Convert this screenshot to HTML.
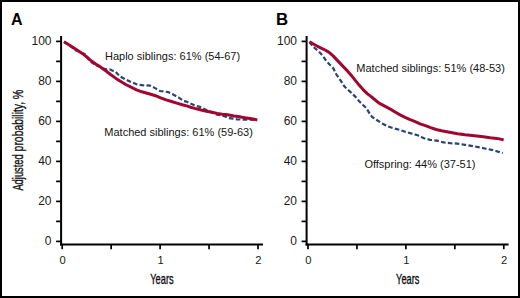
<!DOCTYPE html>
<html><head><meta charset="utf-8"><style>
html,body{margin:0;padding:0;background:#fff;}
.wrap{position:relative;width:520px;height:298px;box-sizing:border-box;border:2px solid #000;overflow:hidden;background:#fff;}
svg{position:absolute;left:-2px;top:-2px;}
text{font-family:"Liberation Sans",sans-serif;}
.tk{font-size:12px;fill:#1a1a1a;}
.tkx{font-size:11.2px;fill:#1a1a1a;}
.an{font-size:11px;fill:#151515;}
.pl{font-size:16px;font-weight:bold;fill:#000;}
.cd{font-size:14.5px;fill:#111;stroke:#111;stroke-width:0.35px;}
</style></head><body><div class="wrap">
<svg width="520" height="298" viewBox="0 0 520 298">
<line x1="61.1" y1="36" x2="61.1" y2="245.5" stroke="#000" stroke-width="2"/>
<line x1="60.1" y1="244.4" x2="263" y2="244.4" stroke="#000" stroke-width="2"/>
<line x1="56.1" y1="241.4" x2="61.1" y2="241.4" stroke="#000" stroke-width="1.7"/>
<line x1="56.1" y1="221.4" x2="61.1" y2="221.4" stroke="#000" stroke-width="1.7"/>
<line x1="56.1" y1="201.4" x2="61.1" y2="201.4" stroke="#000" stroke-width="1.7"/>
<line x1="56.1" y1="181.4" x2="61.1" y2="181.4" stroke="#000" stroke-width="1.7"/>
<line x1="56.1" y1="161.4" x2="61.1" y2="161.4" stroke="#000" stroke-width="1.7"/>
<line x1="56.1" y1="141.4" x2="61.1" y2="141.4" stroke="#000" stroke-width="1.7"/>
<line x1="56.1" y1="121.4" x2="61.1" y2="121.4" stroke="#000" stroke-width="1.7"/>
<line x1="56.1" y1="101.4" x2="61.1" y2="101.4" stroke="#000" stroke-width="1.7"/>
<line x1="56.1" y1="81.4" x2="61.1" y2="81.4" stroke="#000" stroke-width="1.7"/>
<line x1="56.1" y1="61.400000000000006" x2="61.1" y2="61.400000000000006" stroke="#000" stroke-width="1.7"/>
<line x1="56.1" y1="41.400000000000006" x2="61.1" y2="41.400000000000006" stroke="#000" stroke-width="1.7"/>
<line x1="62.20" y1="244.5" x2="62.20" y2="249.2" stroke="#000" stroke-width="1.7"/>
<line x1="111.15" y1="244.5" x2="111.15" y2="249.2" stroke="#000" stroke-width="1.7"/>
<line x1="160.10" y1="244.5" x2="160.10" y2="249.2" stroke="#000" stroke-width="1.7"/>
<line x1="209.05" y1="244.5" x2="209.05" y2="249.2" stroke="#000" stroke-width="1.7"/>
<line x1="258.00" y1="244.5" x2="258.00" y2="249.2" stroke="#000" stroke-width="1.7"/>
<text x="51.5" y="245.2" text-anchor="end" class="tk">0</text>
<text x="51.5" y="205.2" text-anchor="end" class="tk">20</text>
<text x="51.5" y="165.2" text-anchor="end" class="tk">40</text>
<text x="51.5" y="125.2" text-anchor="end" class="tk">60</text>
<text x="51.5" y="85.2" text-anchor="end" class="tk">80</text>
<text x="51.5" y="45.2" text-anchor="end" class="tk">100</text>
<text x="62.6" y="264.1" text-anchor="middle" class="tkx">0</text>
<text x="160.5" y="264.1" text-anchor="middle" class="tkx">1</text>
<text x="258.4" y="264.1" text-anchor="middle" class="tkx">2</text>
<line x1="306.6" y1="36" x2="306.6" y2="245.5" stroke="#000" stroke-width="2"/>
<line x1="305.6" y1="244.4" x2="508.6" y2="244.4" stroke="#000" stroke-width="2"/>
<line x1="301.6" y1="241.4" x2="306.6" y2="241.4" stroke="#000" stroke-width="1.7"/>
<line x1="301.6" y1="221.4" x2="306.6" y2="221.4" stroke="#000" stroke-width="1.7"/>
<line x1="301.6" y1="201.4" x2="306.6" y2="201.4" stroke="#000" stroke-width="1.7"/>
<line x1="301.6" y1="181.4" x2="306.6" y2="181.4" stroke="#000" stroke-width="1.7"/>
<line x1="301.6" y1="161.4" x2="306.6" y2="161.4" stroke="#000" stroke-width="1.7"/>
<line x1="301.6" y1="141.4" x2="306.6" y2="141.4" stroke="#000" stroke-width="1.7"/>
<line x1="301.6" y1="121.4" x2="306.6" y2="121.4" stroke="#000" stroke-width="1.7"/>
<line x1="301.6" y1="101.4" x2="306.6" y2="101.4" stroke="#000" stroke-width="1.7"/>
<line x1="301.6" y1="81.4" x2="306.6" y2="81.4" stroke="#000" stroke-width="1.7"/>
<line x1="301.6" y1="61.400000000000006" x2="306.6" y2="61.400000000000006" stroke="#000" stroke-width="1.7"/>
<line x1="301.6" y1="41.400000000000006" x2="306.6" y2="41.400000000000006" stroke="#000" stroke-width="1.7"/>
<line x1="308.00" y1="244.5" x2="308.00" y2="249.2" stroke="#000" stroke-width="1.7"/>
<line x1="356.95" y1="244.5" x2="356.95" y2="249.2" stroke="#000" stroke-width="1.7"/>
<line x1="405.90" y1="244.5" x2="405.90" y2="249.2" stroke="#000" stroke-width="1.7"/>
<line x1="454.85" y1="244.5" x2="454.85" y2="249.2" stroke="#000" stroke-width="1.7"/>
<line x1="503.80" y1="244.5" x2="503.80" y2="249.2" stroke="#000" stroke-width="1.7"/>
<text x="297.0" y="245.2" text-anchor="end" class="tk">0</text>
<text x="297.0" y="205.2" text-anchor="end" class="tk">20</text>
<text x="297.0" y="165.2" text-anchor="end" class="tk">40</text>
<text x="297.0" y="125.2" text-anchor="end" class="tk">60</text>
<text x="297.0" y="85.2" text-anchor="end" class="tk">80</text>
<text x="297.0" y="45.2" text-anchor="end" class="tk">100</text>
<text x="308.4" y="264.1" text-anchor="middle" class="tkx">0</text>
<text x="406.3" y="264.1" text-anchor="middle" class="tkx">1</text>
<text x="504.2" y="264.1" text-anchor="middle" class="tkx">2</text>
<path d="M64.0,41.8 L68.0,44.6 L72.1,47.4 L74.5,50.2 L77.0,50.6 L80.1,52.3 L85.5,54.2 L88.2,58.6 L90.5,61.6 L94.0,63.8 L96.1,65.2 L99.0,66.4 L102.6,68.4 L106.0,69.2 L109.7,69.3 L112.2,70.6 L115.7,71.8 L119.7,76.3 L125.1,79.2 L131.1,82.0 L136.5,84.3 L142.0,85.2 L150.1,85.6 L155.1,88.1 L160.1,91.0 L168.2,92.1 L173.2,94.6 L178.8,97.6 L183.6,101.0 L186.5,101.6 L190.4,103.4 L194.4,105.2 L199.8,106.9 L206.5,110.1 L211.8,112.3 L217.2,114.8 L222.6,115.6 L224.0,116.1 L229.0,118.1 L233.1,118.7 L237.1,119.3 L242.1,119.6 L246.2,119.6 L251.2,119.6 L256.2,120.1 L257.2,120.1" fill="none" stroke="#2b4374" stroke-width="2.2" stroke-dasharray="4.6 2.3"/>
<path d="M64.0,41.8 L68.0,44.3 L72.1,46.8 L76.1,49.4 L80.1,52.0 L84.2,54.9 L88.1,58.2 L91.0,60.6 L94.0,62.8 L97.0,64.9 L100.0,66.6 L102.1,68.2 L106.1,71.0 L110.2,74.2 L114.2,77.1 L117.6,79.6 L120.4,81.3 L125.7,84.5 L131.1,87.1 L136.5,89.8 L141.8,91.8 L147.2,93.3 L152.4,94.8 L155.4,95.7 L160.7,97.9 L166.1,99.9 L171.5,101.5 L176.8,103.1 L182.2,104.8 L187.6,106.1 L190.4,107.2 L195.7,108.6 L201.1,110.0 L206.5,111.2 L211.8,112.2 L217.2,113.4 L222.4,114.2 L226.0,114.6 L230.1,115.3 L234.1,116.0 L238.1,116.6 L242.1,117.3 L246.2,117.9 L250.2,118.6 L254.2,119.3 L257.2,119.9" fill="none" stroke="#a0062f" stroke-width="3" stroke-linejoin="round" stroke-linecap="butt"/>
<path d="M309.5,41.8 L311.0,44.0 L313.8,47.3 L317.8,50.6 L319.0,51.6 L322.5,55.5 L325.6,60.0 L329.1,64.0 L333.4,68.4 L336.1,74.0 L339.1,78.4 L341.4,81.6 L344.1,86.0 L346.8,88.9 L350.1,91.6 L353.5,94.9 L356.8,98.3 L359.0,101.0 L363.0,105.0 L366.5,108.3 L368.9,112.4 L372.1,117.0 L377.1,120.2 L381.6,123.2 L387.7,126.3 L392.0,127.7 L395.0,128.6 L399.6,129.8 L405.1,131.7 L411.7,133.6 L417.7,135.3 L421.2,136.9 L424.0,138.3 L430.1,139.8 L436.8,140.6 L443.5,142.4 L450.2,143.2 L456.9,143.6 L465.1,144.8 L471.3,145.8 L478.1,147.1 L484.8,148.5 L491.5,149.8 L498.2,151.7 L502.8,153.0" fill="none" stroke="#2b4374" stroke-width="2.2" stroke-dasharray="4.6 2.3"/>
<path d="M309.5,41.8 L315.1,45.0 L320.1,47.6 L325.1,50.0 L329.1,52.4 L333.1,55.9 L336.6,59.6 L340.2,63.4 L344.0,67.4 L347.4,70.9 L351.0,75.1 L355.1,80.1 L359.1,85.1 L363.1,89.6 L367.2,93.6 L371.2,96.6 L373.4,98.5 L379.1,103.2 L385.2,106.4 L391.2,109.6 L395.5,112.2 L400.1,114.9 L405.1,117.4 L410.1,119.6 L415.2,121.7 L420.0,123.9 L425.4,125.7 L430.7,127.7 L436.1,129.5 L441.5,130.8 L446.8,131.8 L452.2,132.7 L457.6,133.7 L465.1,134.7 L470.0,135.2 L476.7,136.0 L483.4,136.8 L490.1,137.8 L496.8,138.4 L501.5,139.4 L503.6,140.0" fill="none" stroke="#a0062f" stroke-width="3" stroke-linejoin="round" stroke-linecap="butt"/>
<text x="11" y="24.6" class="pl">A</text>
<text x="276" y="24.9" class="pl" style="font-size:16.8px">B</text>
<text x="105" y="59.6" class="an">Haplo siblings: 61% (54-67)</text>
<text x="104.3" y="136.2" class="an">Matched siblings: 61% (59-63)</text>
<text x="356.3" y="71.8" class="an">Matched siblings: 51% (48-53)</text>
<text x="364.4" y="167.7" class="an">Offspring: 44% (37-51)</text>
<text x="150.3" y="283.9" class="cd" textLength="23.3" lengthAdjust="spacingAndGlyphs">Years</text>
<text x="396.1" y="283.9" class="cd" textLength="23.3" lengthAdjust="spacingAndGlyphs">Years</text>
<text transform="translate(23,190.6) rotate(-90)" x="0" y="0" class="cd" textLength="36.3" lengthAdjust="spacingAndGlyphs">Adjusted</text>
<text transform="translate(23,151.4) rotate(-90)" x="0" y="0" class="cd" textLength="49.6" lengthAdjust="spacingAndGlyphs">probability,</text>
<text transform="translate(23,99.2) rotate(-90)" x="0" y="0" class="cd" textLength="9.6" lengthAdjust="spacingAndGlyphs">%</text>
</svg></div></body></html>
